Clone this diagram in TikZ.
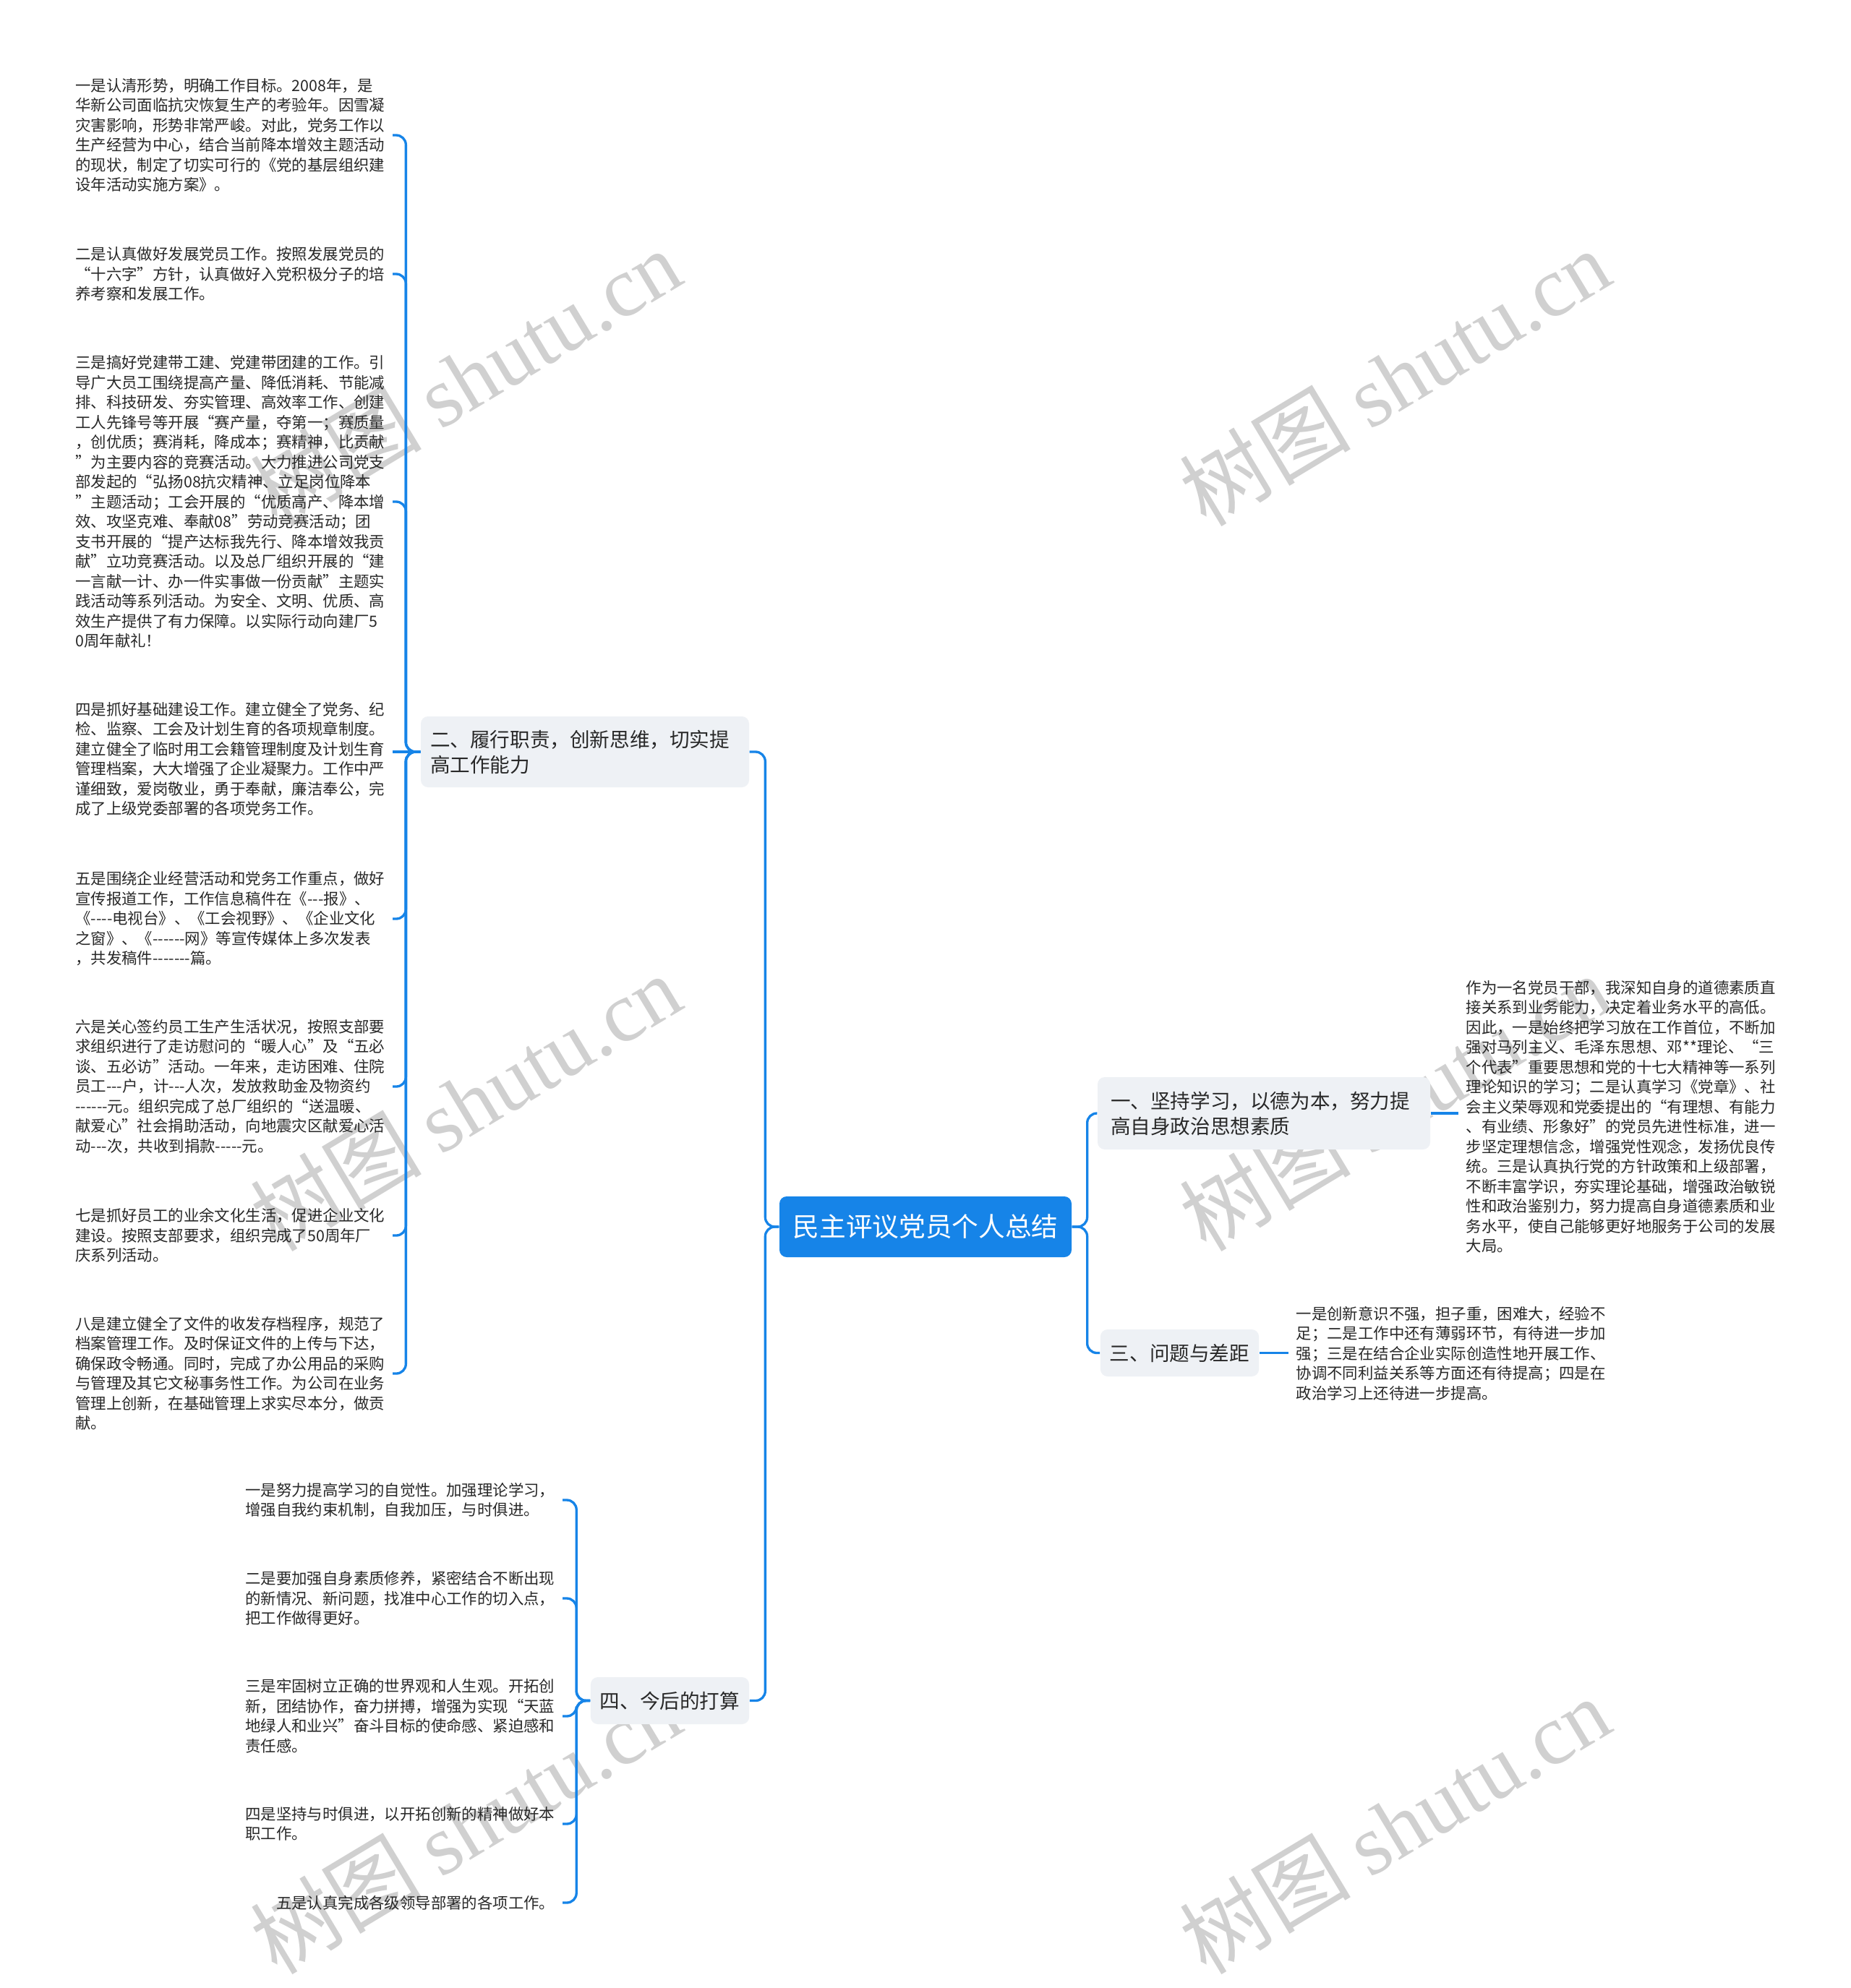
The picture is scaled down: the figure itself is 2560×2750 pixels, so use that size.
\documentclass[tikz,border=0pt]{standalone}
\usepackage{fontspec}
\newfontfamily\cjkfont{Noto Sans CJK SC}
\setmainfont{Noto Sans CJK SC}
\newfontfamily\wmlatin{Liberation Serif}
\usetikzlibrary{calc}
\definecolor{mblue}{RGB}{22,132,232}
\definecolor{boxgray}{RGB}{238,241,245}
\definecolor{txt}{RGB}{40,40,40}
\definecolor{wm}{RGB}{208,208,208}
\begin{document}
\begin{tikzpicture}[x=0.3pt,y=-0.3pt,
  conn/.style={draw=mblue,line width=1pt,rounded corners=4pt},
  leaf/.style={inner xsep=3pt,inner ysep=0pt,align=left,text=txt,font=\cjkfont\fontsize{6.42pt}{8.25pt}\selectfont},
  branch/.style={fill=boxgray,rounded corners=3pt,text=txt,font=\cjkfont\fontsize{8.28pt}{10.5pt}\selectfont,inner ysep=0pt,align=left},
  rootbox/.style={fill=mblue,rounded corners=3pt,text=white,font=\cjkfont\fontsize{11pt}{13pt}\selectfont,minimum width=121.2pt,minimum height=25.2pt,inner sep=0pt},
  wmark/.style={text=wm,rotate=31,font=\cjkfont\fontsize{35.5pt}{38pt}\selectfont,inner sep=0pt}]
\useasboundingbox (0,0) rectangle (2560,2750);
\fill[white] (0,0) rectangle (2560,2750);

% watermarks
\node[wmark] (wm1) at (644,522) {树图 {\wmlatin shutu.cn}};
\node[wmark] (wm2) at (1929,522) {树图 {\wmlatin shutu.cn}};
\node[wmark] (wm3) at (644,1525) {树图 {\wmlatin shutu.cn}};
\node[wmark] (wm4) at (1929,1525) {树图 {\wmlatin shutu.cn}};
\node[wmark] (wm5) at (644,2525) {树图 {\wmlatin shutu.cn}};
\node[wmark] (wm6) at (1929,2525) {树图 {\wmlatin shutu.cn}};

% root
\node[rootbox] (root) at (1280,1697) {民主评议党员个人总结};

% branches
\node[branch,text width=127.2pt,inner xsep=5.4pt,minimum height=30pt] (b1) at (1748,1540) {一、坚持学习，以德为本，努力提\\高自身政治思想素质};
\node[branch,text width=128.4pt,inner xsep=3.9pt,minimum height=29.4pt] (b2) at (809,1040) {二、履行职责，创新思维，切实提\\高工作能力};
\node[branch,inner xsep=3.9pt,minimum width=65.7pt,minimum height=19.5pt] (b3) at (1631.5,1871.5) {三、问题与差距};
\node[branch,inner xsep=3.9pt,minimum width=65.7pt,minimum height=19.5pt] (b4) at (926.5,2352.5) {四、今后的打算};

% leaves of branch 2
\node[leaf,anchor=east] (l1) at (543,187) {一是认清形势，明确工作目标。2008年，是\\华新公司面临抗灾恢复生产的考验年。因雪凝\\灾害影响，形势非常严峻。对此，党务工作以\\生产经营为中心，结合当前降本增效主题活动\\的现状，制定了切实可行的《党的基层组织建\\设年活动实施方案》。};
\node[leaf,anchor=east] (l2) at (543,379) {二是认真做好发展党员工作。按照发展党员的\\“十六字”方针，认真做好入党积极分子的培\\养考察和发展工作。};
\node[leaf,anchor=east] (l3) at (543,694) {三是搞好党建带工建、党建带团建的工作。引\\导广大员工围绕提高产量、降低消耗、节能减\\排、科技研发、夯实管理、高效率工作、创建\\工人先锋号等开展“赛产量，夺第一；赛质量\\，创优质；赛消耗，降成本；赛精神，比贡献\\”为主要内容的竞赛活动。大力推进公司党支\\部发起的“弘扬08抗灾精神、立足岗位降本\\”主题活动；工会开展的“优质高产、降本增\\效、攻坚克难、奉献08”劳动竞赛活动；团\\支书开展的“提产达标我先行、降本增效我贡\\献”立功竞赛活动。以及总厂组织开展的“建\\一言献一计、办一件实事做一份贡献”主题实\\践活动等系列活动。为安全、文明、优质、高\\效生产提供了有力保障。以实际行动向建厂5\\0周年献礼！};
\node[leaf,anchor=east] (l4) at (543,1050) {四是抓好基础建设工作。建立健全了党务、纪\\检、监察、工会及计划生育的各项规章制度。\\建立健全了临时用工会籍管理制度及计划生育\\管理档案，大大增强了企业凝聚力。工作中严\\谨细致，爱岗敬业，勇于奉献，廉洁奉公，完\\成了上级党委部署的各项党务工作。};
\node[leaf,anchor=east] (l5) at (543,1271) {五是围绕企业经营活动和党务工作重点，做好\\宣传报道工作，工作信息稿件在《---报》、\\《----电视台》、《工会视野》、《企业文化\\之窗》、《------网》等宣传媒体上多次发表\\，共发稿件-------篇。};
\node[leaf,anchor=east] (l6) at (543,1503) {六是关心签约员工生产生活状况，按照支部要\\求组织进行了走访慰问的“暖人心”及“五必\\谈、五必访”活动。一年来，走访困难、住院\\员工---户，计---人次，发放救助金及物资约\\------元。组织完成了总厂组织的“送温暖、\\献爱心”社会捐助活动，向地震灾区献爱心活\\动---次，共收到捐款-----元。};
\node[leaf,anchor=east] (l7) at (543,1709) {七是抓好员工的业余文化生活，促进企业文化\\建设。按照支部要求，组织完成了50周年厂\\庆系列活动。};
\node[leaf,anchor=east] (l8) at (543,1900) {八是建立健全了文件的收发存档程序，规范了\\档案管理工作。及时保证文件的上传与下达，\\确保政令畅通。同时，完成了办公用品的采购\\与管理及其它文秘事务性工作。为公司在业务\\管理上创新，在基础管理上求实尽本分，做贡\\献。};

% leaves of branch 4
\node[leaf,anchor=east] (m1) at (778,2075) {一是努力提高学习的自觉性。加强理论学习，\\增强自我约束机制，自我加压，与时俱进。};
\node[leaf,anchor=east] (m2) at (778,2211) {二是要加强自身素质修养，紧密结合不断出现\\的新情况、新问题，找准中心工作的切入点，\\把工作做得更好。};
\node[leaf,anchor=east] (m3) at (778,2374) {三是牢固树立正确的世界观和人生观。开拓创\\新，团结协作，奋力拼搏，增强为实现“天蓝\\地绿人和业兴”奋斗目标的使命感、紧迫感和\\责任感。};
\node[leaf,anchor=east] (m4) at (778,2523) {四是坚持与时俱进，以开拓创新的精神做好本\\职工作。};
\node[leaf,anchor=east] (m5) at (778,2632) {五是认真完成各级领导部署的各项工作。};

% right leaves
\node[leaf,anchor=west] (r1) at (2017,1545) {作为一名党员干部，我深知自身的道德素质直\\接关系到业务能力，决定着业务水平的高低。\\因此，一是始终把学习放在工作首位，不断加\\强对马列主义、毛泽东思想、邓**理论、“三\\个代表”重要思想和党的十七大精神等一系列\\理论知识的学习；二是认真学习《党章》、社\\会主义荣辱观和党委提出的“有理想、有能力\\、有业绩、形象好”的党员先进性标准，进一\\步坚定理想信念，增强党性观念，发扬优良传\\统。三是认真执行党的方针政策和上级部署，\\不断丰富学识，夯实理论基础，增强政治敏锐\\性和政治鉴别力，努力提高自身道德素质和业\\务水平，使自己能够更好地服务于公司的发展\\大局。};
\node[leaf,anchor=west] (r3) at (1782,1872) {一是创新意识不强，担子重，困难大，经验不\\足；二是工作中还有薄弱环节，有待进一步加\\强；三是在结合企业实际创造性地开展工作、\\协调不同利益关系等方面还有待提高；四是在\\政治学习上还待进一步提高。};

% connectors root -> branches
\draw[conn] (root.west) -- ++(-19,0) |- (b2.east);
\draw[conn] (root.west) -- ++(-19,0) |- (b4.east);
\draw[conn] (root.east) -- ++(21,0) |- (b1.west);
\draw[conn] (root.east) -- ++(21,0) |- (b3.west);

% branch 2 -> leaves
\draw[conn] (b2.west) -- ++(-20,0) |- (l1.east);
\draw[conn] (b2.west) -- ++(-20,0) |- (l2.east);
\draw[conn] (b2.west) -- ++(-20,0) |- (l3.east);
\draw[conn] (b2.west) -- (b2.west -| l4.east);
\draw[conn] (b2.west) -- ++(-20,0) |- (l5.east);
\draw[conn] (b2.west) -- ++(-20,0) |- (l6.east);
\draw[conn] (b2.west) -- ++(-20,0) |- (l7.east);
\draw[conn] (b2.west) -- ++(-20,0) |- (l8.east);

% branch 4 -> leaves
\draw[conn] (b4.west) -- ++(-19,0) |- (m1.east);
\draw[conn] (b4.west) -- ++(-19,0) |- (m2.east);
\draw[conn] (b4.west) -- ++(-19,0) |- (m3.east);
\draw[conn] (b4.west) -- ++(-19,0) |- (m4.east);
\draw[conn] (b4.west) -- ++(-19,0) |- (m5.east);

% branch 1 and 3 -> leaves
\draw[conn] (b1.east) -- (b1.east -| r1.west);
\draw[conn] (b3.east) -- (b3.east -| r3.west);
\end{tikzpicture}
\end{document}
